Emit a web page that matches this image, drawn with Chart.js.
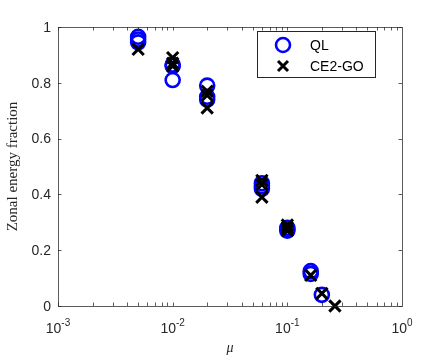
<!DOCTYPE html>
<html>
<head>
<meta charset="utf-8">
<script src="https://cdn.jsdelivr.net/npm/chart.js@4/dist/chart.umd.min.js"></script>
<style>
  html, body { margin: 0; padding: 0; background: #fff; }
  #wrap { width: 443px; height: 360px; position: relative; }
</style>
</head>
<body>
<div id="wrap"><canvas id="c" width="443" height="360"></canvas></div>
<script>
// ---- data ----
const seriesNames = ['QL', 'CE2-GO'];
const muQL  = [0.005, 0.005, 0.005, 0.01, 0.01, 0.01, 0.02, 0.02, 0.02, 0.06, 0.06, 0.06, 0.1, 0.1, 0.1, 0.16, 0.16, 0.2];
const zefQL = [0.965, 0.955, 0.945, 0.865, 0.86, 0.81, 0.79, 0.75, 0.74, 0.44, 0.43, 0.42, 0.28, 0.275, 0.27, 0.125, 0.115, 0.04];
const muCE  = [0.005, 0.01, 0.01, 0.01, 0.02, 0.02, 0.02, 0.06, 0.06, 0.06, 0.1, 0.1, 0.1, 0.16, 0.2, 0.26];
const zefCE = [0.92, 0.89, 0.87, 0.86, 0.77, 0.755, 0.71, 0.45, 0.435, 0.39, 0.29, 0.28, 0.27, 0.11, 0.045, 0.0];
const xTickExponents = [-3, -2, -1, 0];
const yTickValues = [0, 0.2, 0.4, 0.6, 0.8, 1];
const xTitle = 'μ';
const yTitle = 'Zonal energy fraction';

const toPts = (xs, ys) => xs.map((x, i) => ({ x: x, y: ys[i] }));

const axisColor = '#262626';
const frameColor = 'rgba(38,38,38,0.75)';
const sansFont = '"Liberation Sans", Arial, sans-serif';

const decorPlugin = {
  id: 'decor',
  afterDraw(chart) {
    const ctx = chart.ctx;
    const ca = chart.chartArea;
    const xs = chart.scales.x, ys = chart.scales.y;
    ctx.save();
    // frame
    ctx.strokeStyle = frameColor;
    ctx.lineWidth = 1;
    ctx.strokeRect(Math.round(ca.left) + 0.5, Math.round(ca.top) + 0.5,
                   Math.round(ca.right - ca.left), Math.round(ca.bottom - ca.top));
    // ticks (inward)
    const tl = 3.5;
    ctx.beginPath();
    yTickValues.forEach(v => {
      const py = Math.round(ys.getPixelForValue(v)) + 0.5;
      ctx.moveTo(ca.left, py); ctx.lineTo(ca.left + tl, py);
      ctx.moveTo(ca.right, py); ctx.lineTo(ca.right - tl, py);
    });
    for (let e = xTickExponents[0]; e < xTickExponents[xTickExponents.length - 1]; e++) {
      for (let m = 1; m <= 9; m++) {
        const px = Math.round(xs.getPixelForValue(m * Math.pow(10, e))) + 0.5;
        ctx.moveTo(px, ca.bottom); ctx.lineTo(px, ca.bottom - tl);
        ctx.moveTo(px, ca.top); ctx.lineTo(px, ca.top + tl);
      }
    }
    ctx.stroke();
    // y tick labels
    ctx.fillStyle = axisColor;
    ctx.font = '14px ' + sansFont;
    ctx.textAlign = 'right';
    ctx.textBaseline = 'middle';
    yTickValues.forEach(v => {
      ctx.fillText(String(v), ca.left - 7, ys.getPixelForValue(v) + 1);
    });
    // x tick labels 10^e
    ctx.textBaseline = 'alphabetic';
    xTickExponents.forEach(e => {
      const px = xs.getPixelForValue(Math.pow(10, e));
      ctx.font = '14px ' + sansFont;
      const base = '10';
      const sup = String(e);
      const wb = ctx.measureText(base).width;
      ctx.font = '10px ' + sansFont;
      const ws = ctx.measureText(sup).width;
      const x0 = px - (wb + ws) / 2;
      ctx.textAlign = 'left';
      ctx.font = '14px ' + sansFont;
      ctx.fillText(base, x0, ca.bottom + 27);
      ctx.font = '10px ' + sansFont;
      ctx.fillText(sup, x0 + wb, ca.bottom + 20);
    });
    // axis titles
    ctx.fillStyle = axisColor;
    ctx.font = 'italic 14px "Liberation Serif", "Times New Roman", serif';
    ctx.textAlign = 'center';
    ctx.textBaseline = 'alphabetic';
    ctx.fillText(xTitle, (ca.left + ca.right) / 2, 352);
    ctx.save();
    ctx.translate(13, (ca.top + ca.bottom) / 2);
    ctx.rotate(-Math.PI / 2);
    ctx.font = '15px "Liberation Serif", "Times New Roman", serif';
    ctx.textBaseline = 'middle';
    ctx.fillText(yTitle, 0, 0);
    ctx.restore();
    // legend
    const lx = 257.5, ly = 31.5, lw = 118, lh = 46;
    ctx.fillStyle = '#fff';
    ctx.fillRect(lx, ly, lw, lh);
    ctx.strokeStyle = axisColor;
    ctx.lineWidth = 1;
    ctx.strokeRect(lx, ly, lw, lh);
    const ds = chart.data.datasets;
    const rows = [45, 66];
    ds.forEach((d, i) => {
      const cx = 283, cy = rows[i];
      ctx.strokeStyle = d.borderColor;
      ctx.lineWidth = d.borderWidth;
      ctx.beginPath();
      if (d.pointStyle === 'circle') {
        ctx.arc(cx, cy, 7, 0, Math.PI * 2);
      } else {
        const a = 5;
        ctx.moveTo(cx - a, cy - a); ctx.lineTo(cx + a, cy + a);
        ctx.moveTo(cx + a, cy - a); ctx.lineTo(cx - a, cy + a);
      }
      ctx.stroke();
      ctx.fillStyle = '#000';
      ctx.font = '14px ' + sansFont;
      ctx.textAlign = 'left';
      ctx.textBaseline = 'middle';
      ctx.fillText(d.label, 310, cy + 1);
    });
    ctx.restore();
  }
};

new Chart(document.getElementById('c'), {
  type: 'scatter',
  data: {
    datasets: [
      {
        label: seriesNames[0],
        data: toPts(muQL, zefQL),
        pointStyle: 'circle',
        pointRadius: 7,
        pointHoverRadius: 7,
        borderColor: '#0000ff',
        backgroundColor: 'rgba(0,0,0,0)',
        borderWidth: 2.6,
        order: 1,
        clip: false
      },
      {
        label: seriesNames[1],
        data: toPts(muCE, zefCE),
        pointStyle: 'crossRot',
        pointRadius: 8,
        pointHoverRadius: 8,
        borderColor: '#000000',
        backgroundColor: '#000000',
        borderWidth: 3,
        order: 0,
        clip: false
      }
    ]
  },
  options: {
    responsive: false,
    animation: false,
    events: [],
    layout: { padding: { left: 58, top: 27, right: 41, bottom: 54 } },
    plugins: { legend: { display: false }, tooltip: { enabled: false } },
    scales: {
      x: { type: 'logarithmic', min: 0.001, max: 1, display: false },
      y: { type: 'linear', min: 0, max: 1, display: false }
    }
  },
  plugins: [decorPlugin]
});
</script>
</body>
</html>
